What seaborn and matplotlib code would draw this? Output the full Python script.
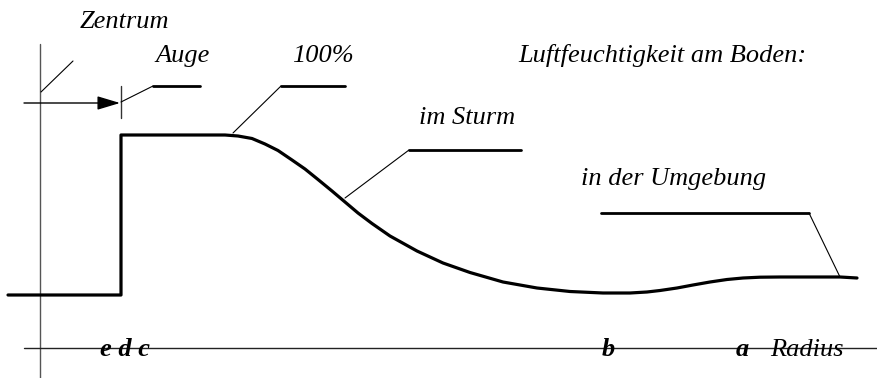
import matplotlib
matplotlib.use('Agg')
import matplotlib.pyplot as plt
import seaborn as sns
import pandas as pd

# humidity profile (radius, humidity) in drawing units, origin at axis cross
radius = [-32, 81, 81, 185, 198, 212, 225, 238, 252, 265, 278, 292, 305, 318,
          332, 350, 377, 403, 430, 463, 497, 530, 563, 590, 607, 620, 637, 653,
          670, 687, 703, 720, 740, 760, 800, 817]
humidity = [53, 53, 213, 213, 212, 209.5, 204, 197.5, 188, 179, 168.5, 157, 146,
            135, 124.5, 112, 97, 85, 75.5, 66, 60, 56.5, 55, 55, 56, 57.5, 60, 63,
            66, 68.5, 70, 70.8, 71, 71, 71, 70]

# marks on the radius axis
radius_marks = ['e d c', 'b', 'a']
radius_mark_pos = [60, 562, 696]

sns.set_style('white')
plt.rcParams['font.family'] = ['Liberation Serif', 'DejaVu Serif']

fig = plt.figure(figsize=(8.78, 3.78), dpi=100)
ax = fig.add_axes([0, 0, 1, 1])
ax.set_xlim(-40, 838)
ax.set_ylim(-30, 348)
ax.axis('off')

# axes
ax.plot([0, 0], [-30, 304], color='#555555', lw=1)
ax.plot([-16, 838], [0, 0], color='#222222', lw=1)

df = pd.DataFrame({'radius': radius, 'humidity': humidity})
sns.lineplot(data=df, x='radius', y='humidity', sort=False, estimator=None,
             color='black', lw=2.3, ax=ax)
ax.get_lines()[-1].set_solid_joinstyle('round')

# eye arrow
ax.annotate('', xy=(80, 245), xytext=(-16, 245),
            arrowprops=dict(arrowstyle='-|>,head_length=1.0,head_width=0.3',
                            mutation_scale=14, color='black', lw=1,
                            shrinkA=0, shrinkB=0))
ax.plot([81, 81], [230, 262], color='#333333', lw=1)

thin = dict(color='black', lw=0.8)
thick = dict(color='black', lw=2)
# leaders
ax.plot([1, 33], [256, 287], **thin)
ax.plot([81, 113], [246, 262], **thin)
ax.plot([113, 160], [262, 262], **thick)
ax.plot([193, 241], [215, 262], **thin)
ax.plot([241, 305], [262, 262], **thick)
ax.plot([305, 369], [150, 198], **thin)
ax.plot([369, 481], [198, 198], **thick)
ax.plot([800, 769], [71, 135], **thin)
ax.plot([769, 561], [135, 135], **thick)

fs = 19
txt = dict(fontsize=fs, style='italic', va='baseline', ha='left', color='black')
ax.text(40, 320, 'Zentrum', **txt)
ax.text(115, 286, 'Auge', **txt)
ax.text(252, 286, '100%', **txt)
ax.text(478, 286, 'Luftfeuchtigkeit am Boden:', **txt)
ax.text(379, 224, 'im Sturm', **txt)
ax.text(541, 163, 'in der Umgebung', **txt)

for lab, pos in zip(radius_marks, radius_mark_pos):
    ax.text(pos, -8, lab, fontweight='bold', **txt)
ax.text(730, -8, 'Radius', **txt)

fig.savefig('out.png', dpi=100)
